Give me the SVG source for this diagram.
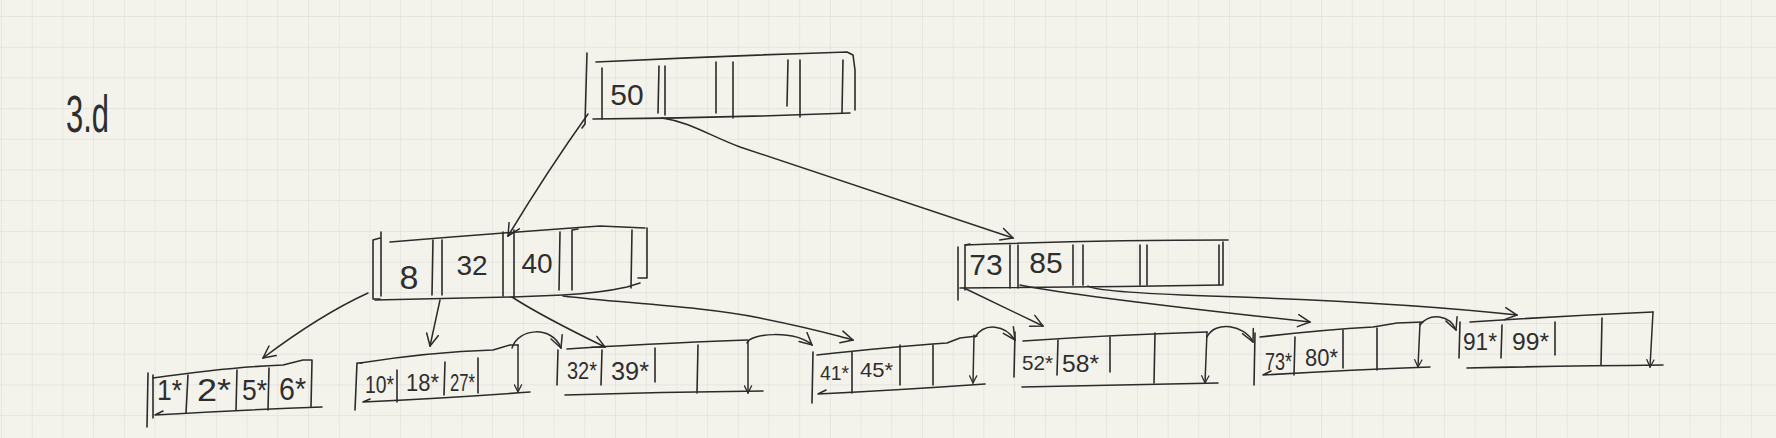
<svg xmlns="http://www.w3.org/2000/svg" width="1776" height="438" viewBox="0 0 1776 438">
<style>
.s{fill:none;stroke:#2b2b2b;stroke-width:1.6;stroke-linecap:round;stroke-linejoin:round}
.c{fill:none;stroke:#2b2b2b;stroke-width:1.5;stroke-linecap:round;stroke-linejoin:round;marker-end:url(#ah)}
.p{fill:none;stroke:#2b2b2b;stroke-width:1.5;stroke-linecap:round;marker-end:url(#ahs)}
.t{font-family:"Liberation Sans",Arial,sans-serif;fill:#2e2e2e}
</style>
<defs>
<pattern id="grid" x="1" y="16" width="30.7" height="30.7" patternUnits="userSpaceOnUse">
<path d="M0,0 L30.7,0 M0,0 L0,30.7" fill="none" stroke="#dfdfdb" stroke-width="1.3"/>
</pattern>
<marker id="ah" viewBox="0 0 14 14" refX="13" refY="7" markerWidth="14" markerHeight="14" markerUnits="userSpaceOnUse" orient="auto">
<path d="M1,1 L13,7 L1,13" fill="none" stroke="#2b2b2b" stroke-width="1.5" stroke-linecap="round"/>
</marker>
<marker id="ahs" viewBox="0 0 10 10" refX="9" refY="5" markerWidth="9" markerHeight="9" markerUnits="userSpaceOnUse" orient="auto">
<path d="M1,1 L9,5 L1,9" fill="none" stroke="#2b2b2b" stroke-width="1.4" stroke-linecap="round"/>
</marker>
</defs>
<rect width="1776" height="438" fill="#f4f3eb"/>
<rect width="1776" height="438" fill="url(#grid)"/>

<g id="label">
<text class="t" x="66" y="132" font-size="52" textLength="43" lengthAdjust="spacingAndGlyphs">3.d</text>
</g>

<g id="node-root">
<path class="s" d="M587,53 L585,124 L582,128"/>
<path class="s" d="M596,62 Q720,56 847,52 L853,55 L855,70 L855,110"/>
<path class="s" d="M593,119 Q720,118 850,113"/>
<path class="s" d="M602,68 L602,119 M659,66 L658,113 M665,66 L665,115 M716,62 L716,113 M733,62 L733,118 M788,60 L787,106 M800,60 L800,117 M843,60 L842,113"/>
<text class="t" x="627" y="105" font-size="30" text-anchor="middle">50</text>
</g>

<g id="node-i1">
<path class="s" d="M380,238 L373,240 L373,299 L380,299"/>
<path class="s" d="M381,232 L381,296"/>
<path class="s" d="M390,242 Q500,233 600,226 L645,228"/>
<path class="s" d="M647,228 L647,278 L638,278 M632,230 L631,288"/>
<path class="s" d="M375,300 L513,297 L563,295 Q600,293 627,287 L640,283"/>
<path class="s" d="M433,240 L432,295 M442,240 L442,295 M503,232 L503,296 M514,230 L514,298 M560,232 L559,290 M572,230 L572,290 M572,230 L578,229"/>
<text class="t" x="409" y="289" font-size="34" text-anchor="middle">8</text>
<text class="t" x="472" y="275" font-size="28" text-anchor="middle">32</text>
<text class="t" x="537" y="273" font-size="28" text-anchor="middle">40</text>
</g>

<g id="node-i2">
<path class="s" d="M958,247 L958,300"/>
<path class="s" d="M970,244 L965,245 L965,290"/>
<path class="s" d="M965,245 Q1100,240 1228,240"/>
<path class="s" d="M1223,242 L1223,285 M1219,245 L1219,285"/>
<path class="s" d="M960,288 Q1100,287 1222,285"/>
<path class="s" d="M1010,245 L1010,288 M1018,245 L1018,288 M1073,245 L1073,285 M1083,245 L1083,285 M1140,245 L1140,285 M1147,245 L1147,285"/>
<text class="t" x="986" y="275" font-size="30" text-anchor="middle">73</text>
<text class="t" x="1046" y="273" font-size="30" text-anchor="middle">85</text>
</g>

<g id="leaf-1">
<path class="s" d="M148,373 L147,427 M153,375 L153,418"/>
<path class="s" d="M153,378 Q230,367 283,365 L303,360 L312,360 L311,407"/>
<path class="s" d="M155,415 Q240,410 322,407 M155,415 L163,411"/>
<path class="s" d="M188,375 L186,413 M237,370 L236,410 M269,368 L268,410"/>
<text class="t" x="157" y="400" font-size="30" textLength="25" lengthAdjust="spacingAndGlyphs">1*</text>
<text class="t" x="197" y="401" font-size="32" textLength="34" lengthAdjust="spacingAndGlyphs">2*</text>
<text class="t" x="242" y="400" font-size="30" textLength="25" lengthAdjust="spacingAndGlyphs">5*</text>
<text class="t" x="279" y="400" font-size="32" textLength="27" lengthAdjust="spacingAndGlyphs">6*</text>
</g>

<g id="leaf-2">
<path class="s" d="M357,363 L355,410 M357,363 L362,363"/>
<path class="s" d="M360,363 Q430,352 493,350 L510,345 L518,345"/>
<path class="p" d="M518,345 L518,392"/>
<path class="s" d="M363,402 Q450,398 530,392 M363,402 L370,399"/>
<path class="s" d="M397,370 L397,402 M445,362 L444,395 M478,358 L478,393"/>
<text class="t" x="365" y="393" font-size="24" textLength="29" lengthAdjust="spacingAndGlyphs">10*</text>
<text class="t" x="406" y="391" font-size="24" textLength="33" lengthAdjust="spacingAndGlyphs">18*</text>
<text class="t" x="450" y="391" font-size="24" textLength="25" lengthAdjust="spacingAndGlyphs">27*</text>
</g>

<g id="leaf-3">
<path class="s" d="M558,350 L557,385"/>
<path class="s" d="M567,349 Q640,344 747,340"/>
<path class="p" d="M748,340 L748,393"/>
<path class="s" d="M565,395 Q660,392 763,391"/>
<path class="s" d="M602,350 L601,385 M655,348 L655,382 M698,345 L697,393"/>
<text class="t" x="567" y="379" font-size="23" textLength="30" lengthAdjust="spacingAndGlyphs">32*</text>
<text class="t" x="611" y="380" font-size="25" textLength="38" lengthAdjust="spacingAndGlyphs">39*</text>
</g>

<g id="leaf-4">
<path class="s" d="M813,352 L812,403"/>
<path class="s" d="M817,355 Q890,347 947,343 L960,338 L977,336"/>
<path class="p" d="M974,335 L973,383"/>
<path class="s" d="M818,394 Q900,390 985,384 M818,394 L826,390"/>
<path class="s" d="M852,352 L852,393 M900,345 L900,385 M933,345 L933,385"/>
<text class="t" x="820" y="380" font-size="21" textLength="29" lengthAdjust="spacingAndGlyphs">41*</text>
<text class="t" x="860" y="377" font-size="21" textLength="33" lengthAdjust="spacingAndGlyphs">45*</text>
</g>

<g id="leaf-5">
<path class="s" d="M1015,332 L1014,377"/>
<path class="s" d="M1023,341 Q1110,335 1207,332"/>
<path class="p" d="M1207,332 L1205,383"/>
<path class="s" d="M1022,387 Q1120,385 1218,383"/>
<path class="s" d="M1058,340 L1057,375 M1110,337 L1110,372 M1155,333 L1154,383"/>
<text class="t" x="1022" y="370" font-size="21" textLength="31" lengthAdjust="spacingAndGlyphs">52*</text>
<text class="t" x="1062" y="372" font-size="23" textLength="37" lengthAdjust="spacingAndGlyphs">58*</text>
</g>

<g id="leaf-6">
<path class="s" d="M1255,333 L1254,385"/>
<path class="s" d="M1260,337 Q1320,330 1373,327 L1397,323 L1423,322"/>
<path class="p" d="M1420,323 L1418,367"/>
<path class="s" d="M1263,375 Q1350,370 1430,367 M1263,375 L1271,371"/>
<path class="s" d="M1295,337 L1294,375 M1343,330 L1343,368 M1377,328 L1377,370"/>
<text class="t" x="1265" y="370" font-size="23" textLength="27" lengthAdjust="spacingAndGlyphs">73*</text>
<text class="t" x="1305" y="366" font-size="23" textLength="33" lengthAdjust="spacingAndGlyphs">80*</text>
</g>

<g id="leaf-7">
<path class="s" d="M1460,322 L1459,358"/>
<path class="s" d="M1470,322 Q1560,316 1653,312"/>
<path class="p" d="M1653,312 L1650,367"/>
<path class="s" d="M1467,368 Q1560,366 1663,365"/>
<path class="s" d="M1502,325 L1501,358 M1555,322 L1555,355 M1602,318 L1601,365"/>
<text class="t" x="1463" y="350" font-size="24" textLength="34" lengthAdjust="spacingAndGlyphs">91*</text>
<text class="t" x="1512" y="350" font-size="24" textLength="37" lengthAdjust="spacingAndGlyphs">99*</text>
</g>

<g id="connectors">
<path class="c" d="M588,114 Q548,170 508,236"/>
<path class="c" d="M662,118 C690,122 710,136 740,147 L1013,238"/>
<path class="c" d="M368,293 Q320,315 263,358"/>
<path class="c" d="M440,300 L430,346"/>
<path class="c" d="M512,297 C535,312 570,330 605,347"/>
<path class="c" d="M563,296 C620,303 700,306 760,318 S830,334 853,340"/>
<path class="c" d="M964,288 L1043,326"/>
<path class="c" d="M1020,285 C1060,293 1172,307 1310,322"/>
<path class="c" d="M1088,286 Q1095,292 1209,296 Q1400,302 1517,315"/>
<path class="c" d="M512,348 C518,328 552,325 561,348"/>
<path class="c" d="M747,343 C750,333 795,330 812,345"/>
<path class="c" d="M975,337 C985,322 1005,325 1015,340"/>
<path class="c" d="M1207,337 C1215,320 1245,325 1253,342"/>
<path class="c" d="M1420,325 C1430,312 1450,315 1456,330"/>
</g>
</svg>
